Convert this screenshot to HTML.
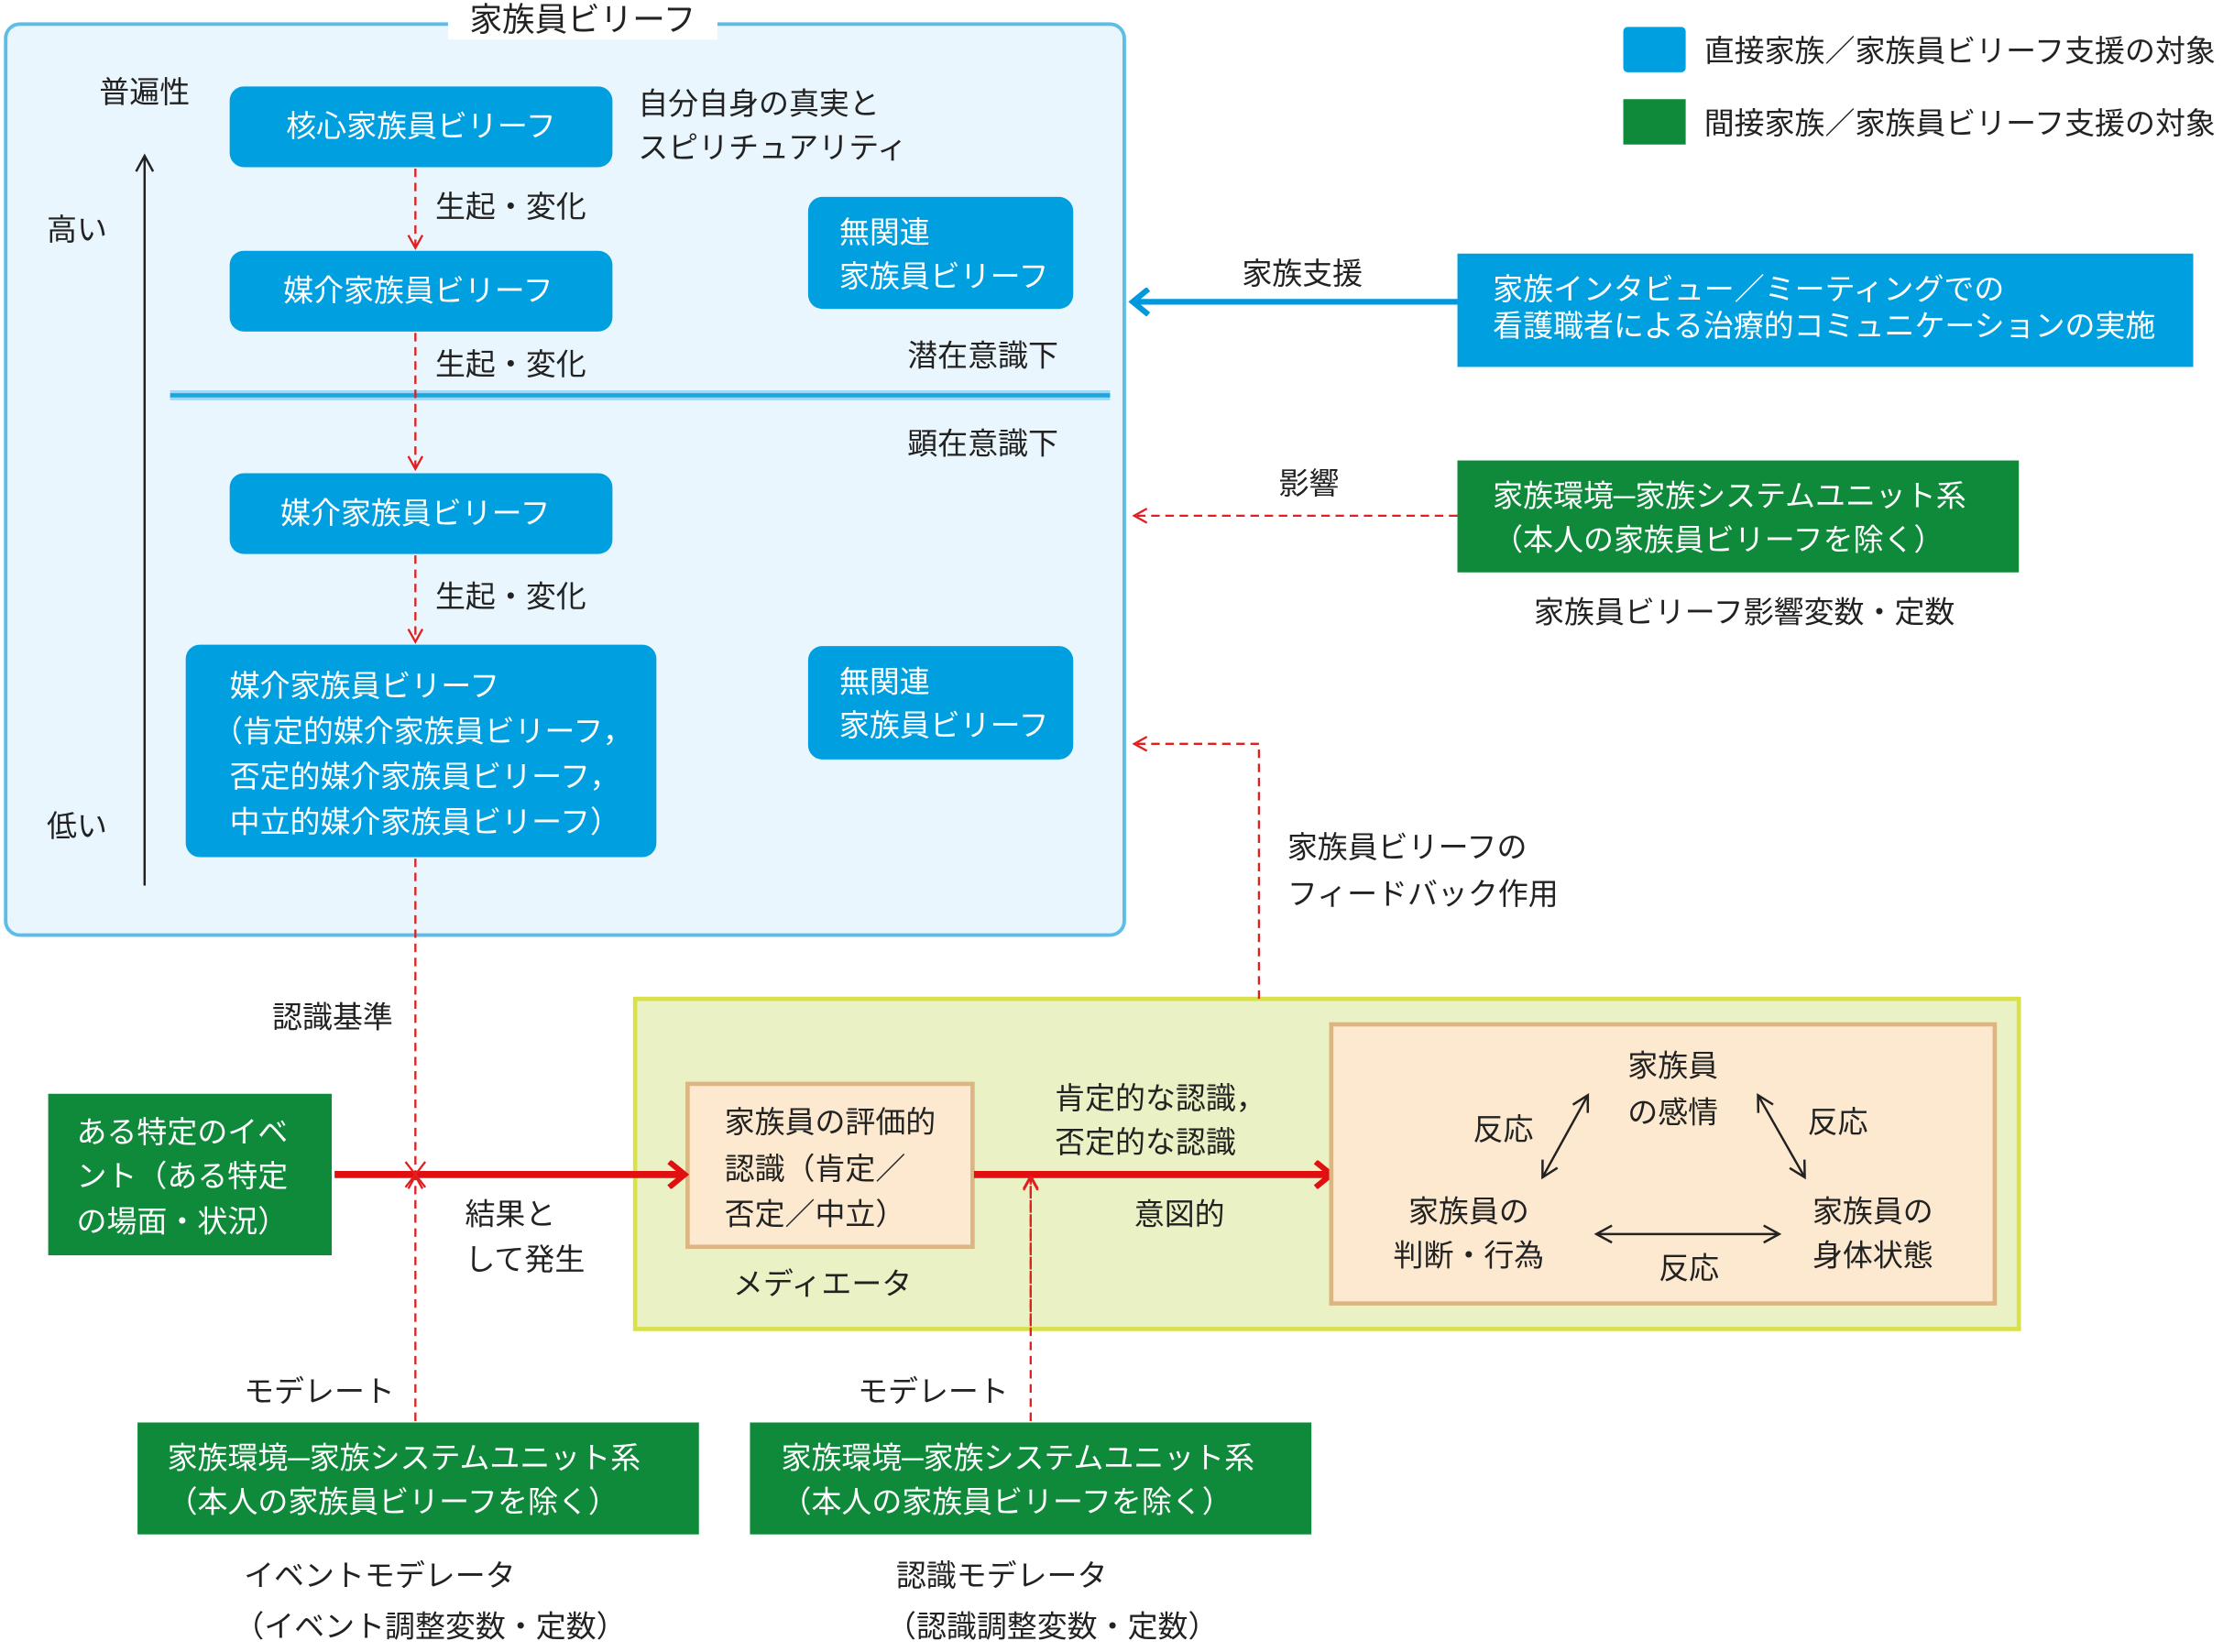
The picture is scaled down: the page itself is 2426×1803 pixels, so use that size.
<!DOCTYPE html>
<html><head><meta charset="utf-8"><style>
html,body{margin:0;padding:0;background:#fff;}
svg{display:block;}
text{font-family:"Liberation Sans","Noto Sans CJK JP",sans-serif;font-size:21.3px;fill:#222;dominant-baseline:central;}
.w{fill:#fff;}
</style></head><body>
<svg width="2426" height="1803" viewBox="0 0 1568 1166" preserveAspectRatio="none" xmlns="http://www.w3.org/2000/svg">
<defs>
<marker id="ro" markerWidth="12" markerHeight="12" refX="10" refY="6" orient="auto" markerUnits="userSpaceOnUse"><path d="M1,1 L10,6 L1,11" fill="none" stroke="#e02020" stroke-width="1.5"/></marker>
<marker id="rs" markerWidth="16" markerHeight="20" refX="12" refY="10" orient="auto" markerUnits="userSpaceOnUse"><path d="M2,1 L13,10 L2,19" fill="none" stroke="#e01010" stroke-width="4"/></marker>
<marker id="bs" markerWidth="16" markerHeight="20" refX="12" refY="10" orient="auto" markerUnits="userSpaceOnUse"><path d="M2,1 L13,10 L2,19" fill="none" stroke="#0099dd" stroke-width="4"/></marker>
<marker id="k" markerWidth="14" markerHeight="14" refX="12" refY="7" orient="auto" markerUnits="userSpaceOnUse"><path d="M1,1 L12,7 L1,13" fill="none" stroke="#222" stroke-width="1.6"/></marker>
<marker id="ks" markerWidth="14" markerHeight="14" refX="2" refY="7" orient="auto" markerUnits="userSpaceOnUse"><path d="M13,1 L2,7 L13,13" fill="none" stroke="#222" stroke-width="1.6"/></marker>
</defs>

<rect x="4" y="17" width="789" height="643" rx="10" fill="#eaf6fd" stroke="#5bbde8" stroke-width="2.5"/>
<rect x="316" y="2" width="190" height="26" fill="#fff"/>
<text x="411" y="14" text-anchor="middle" style="font-size:23px">家族員ビリーフ</text>

<text x="70" y="65">普遍性</text>
<text x="33" y="162">高い</text>
<text x="33" y="583">低い</text>
<line x1="102" y1="625" x2="102" y2="110" stroke="#222" stroke-width="1.6" marker-end="url(#k)"/>

<rect x="162" y="61" width="270" height="57" rx="10" fill="#00a0e0"/>
<text x="297" y="89" text-anchor="middle" class="w">核心家族員ビリーフ</text>
<text x="450" y="73">自分自身の真実と</text>
<text x="450" y="104">スピリチュアリティ</text>

<rect x="162" y="177" width="270" height="57" rx="10" fill="#00a0e0"/>
<text x="295" y="205" text-anchor="middle" class="w">媒介家族員ビリーフ</text>
<rect x="162" y="334" width="270" height="57" rx="10" fill="#00a0e0"/>
<text x="293" y="362" text-anchor="middle" class="w">媒介家族員ビリーフ</text>
<rect x="131" y="455" width="332" height="150" rx="10" fill="#00a0e0"/>
<text x="162" y="484" class="w">媒介家族員ビリーフ</text>
<text x="150" y="516" class="w">（肯定的媒介家族員ビリーフ，</text>
<text x="162" y="548" class="w">否定的媒介家族員ビリーフ，</text>
<text x="162" y="580" class="w">中立的媒介家族員ビリーフ）</text>

<rect x="570" y="139" width="187" height="79" rx="10" fill="#00a0e0"/>
<text x="592" y="164" class="w">無関連</text><text x="592" y="195" class="w">家族員ビリーフ</text>
<rect x="570" y="456" width="187" height="80" rx="10" fill="#00a0e0"/>
<text x="592" y="481" class="w">無関連</text><text x="592" y="512" class="w">家族員ビリーフ</text>

<line x1="120" y1="279" x2="783" y2="279" stroke="#9ed8f3" stroke-width="7"/>
<line x1="120" y1="279" x2="783" y2="279" stroke="#1aa6e4" stroke-width="3"/>
<text x="640" y="251">潜在意識下</text>
<text x="640" y="313">顕在意識下</text>

<text x="307" y="146">生起・変化</text>
<text x="307" y="257">生起・変化</text>
<text x="307" y="421">生起・変化</text>
<text x="192" y="718">認識基準</text>

<rect x="1145" y="19" width="44" height="32" rx="3" fill="#00a0e0"/>
<text x="1202" y="36">直接家族／家族員ビリーフ支援の対象</text>
<rect x="1145" y="70" width="44" height="32" fill="#0f8a3a"/>
<text x="1202" y="87">間接家族／家族員ビリーフ支援の対象</text>

<text x="876" y="193">家族支援</text>
<line x1="1028" y1="213" x2="800" y2="213" stroke="#0099dd" stroke-width="4" marker-end="url(#bs)"/>
<rect x="1028" y="179" width="519" height="80" fill="#00a0e0"/>
<text x="1053" y="204" class="w">家族インタビュー／ミーティングでの</text>
<text x="1053" y="230" class="w">看護職者による治療的コミュニケーションの実施</text>

<text x="902" y="341">影響</text>
<rect x="1028" y="325" width="396" height="79" fill="#0f8a3a"/>
<text x="1053" y="350" class="w">家族環境─家族システムユニット系</text>
<text x="1053" y="381" class="w">（本人の家族員ビリーフを除く）</text>
<text x="1082" y="432">家族員ビリーフ影響変数・定数</text>

<text x="908" y="598">家族員ビリーフの</text>
<text x="908" y="631">フィードバック作用</text>

<rect x="448" y="705" width="976" height="233" fill="#eaf1c4" stroke="#d8e04a" stroke-width="3"/>
<rect x="485" y="765" width="201" height="115" fill="#fde9cf" stroke="#dcb682" stroke-width="3"/>
<text x="511" y="792">家族員の評価的</text>
<text x="511" y="825">認識（肯定／</text>
<text x="511" y="857">否定／中立）</text>
<text x="517" y="906">メディエータ</text>

<rect x="34" y="772" width="200" height="114" fill="#0f8a3a"/>
<text x="54" y="799" class="w">ある特定のイベ</text>
<text x="54" y="830" class="w">ント（ある特定</text>
<text x="54" y="862" class="w">の場面・状況）</text>

<g stroke="#e02020" stroke-width="1.5" stroke-dasharray="6,4" fill="none">
<line x1="293" y1="119" x2="293" y2="175" marker-end="url(#ro)"/>
<line x1="293" y1="235" x2="293" y2="331" marker-end="url(#ro)"/>
<line x1="293" y1="392" x2="293" y2="453" marker-end="url(#ro)"/>
<line x1="293" y1="606" x2="293" y2="828"/>
<line x1="293" y1="1003" x2="293" y2="830" marker-end="url(#ro)"/>
<line x1="727" y1="1003" x2="727" y2="830" marker-end="url(#ro)"/>
<line x1="1028" y1="364" x2="800" y2="364" marker-end="url(#ro)"/>
<polyline points="888,705 888,525 800,525" marker-end="url(#ro)"/>
</g>

<line x1="236" y1="829" x2="482" y2="829" stroke="#e01010" stroke-width="5" marker-end="url(#rs)"/>
<line x1="687" y1="829" x2="938" y2="829" stroke="#e01010" stroke-width="5" marker-end="url(#rs)"/>
<path d="M286,820 L300,838 M300,820 L286,838" stroke="#e02020" stroke-width="1.5"/>
<text x="328" y="857">結果と</text>
<text x="328" y="889">して発生</text>
<text x="744" y="775">肯定的な認識，</text>
<text x="744" y="806">否定的な認識</text>
<text x="800" y="857">意図的</text>

<rect x="939" y="723" width="468" height="197" fill="#fde9cf" stroke="#dcb682" stroke-width="3"/>
<text x="1180" y="752" text-anchor="middle">家族員</text>
<text x="1180" y="785" text-anchor="middle">の感情</text>
<text x="1039" y="797">反応</text>
<text x="1275" y="792">反応</text>
<text x="1036" y="855" text-anchor="middle">家族員の</text>
<text x="1036" y="886" text-anchor="middle">判断・行為</text>
<text x="1321" y="855" text-anchor="middle">家族員の</text>
<text x="1321" y="886" text-anchor="middle">身体状態</text>
<text x="1170" y="895">反応</text>
<g stroke="#222" stroke-width="1.6">
<line x1="1088" y1="831" x2="1120" y2="773" marker-end="url(#k)" marker-start="url(#ks)"/>
<line x1="1240" y1="773" x2="1273" y2="831" marker-end="url(#k)" marker-start="url(#ks)"/>
<line x1="1126" y1="871" x2="1255" y2="871" marker-end="url(#k)" marker-start="url(#ks)"/>
</g>
<line x1="727" y1="936" x2="727" y2="831" stroke="#e02020" stroke-width="1.5" stroke-dasharray="6,4" marker-end="url(#ro)"/>

<text x="172" y="982">モデレート</text>
<text x="605" y="982">モデレート</text>
<rect x="97" y="1004" width="396" height="79" fill="#0f8a3a"/>
<text x="118" y="1029" class="w">家族環境─家族システムユニット系</text>
<text x="118" y="1060" class="w">（本人の家族員ビリーフを除く）</text>
<rect x="529" y="1004" width="396" height="79" fill="#0f8a3a"/>
<text x="551" y="1029" class="w">家族環境─家族システムユニット系</text>
<text x="551" y="1060" class="w">（本人の家族員ビリーフを除く）</text>
<text x="172" y="1112">イベントモデレータ</text>
<text x="165" y="1148">（イベント調整変数・定数）</text>
<text x="632" y="1112">認識モデレータ</text>
<text x="625" y="1148">（認識調整変数・定数）</text>
</svg>
</body></html>
